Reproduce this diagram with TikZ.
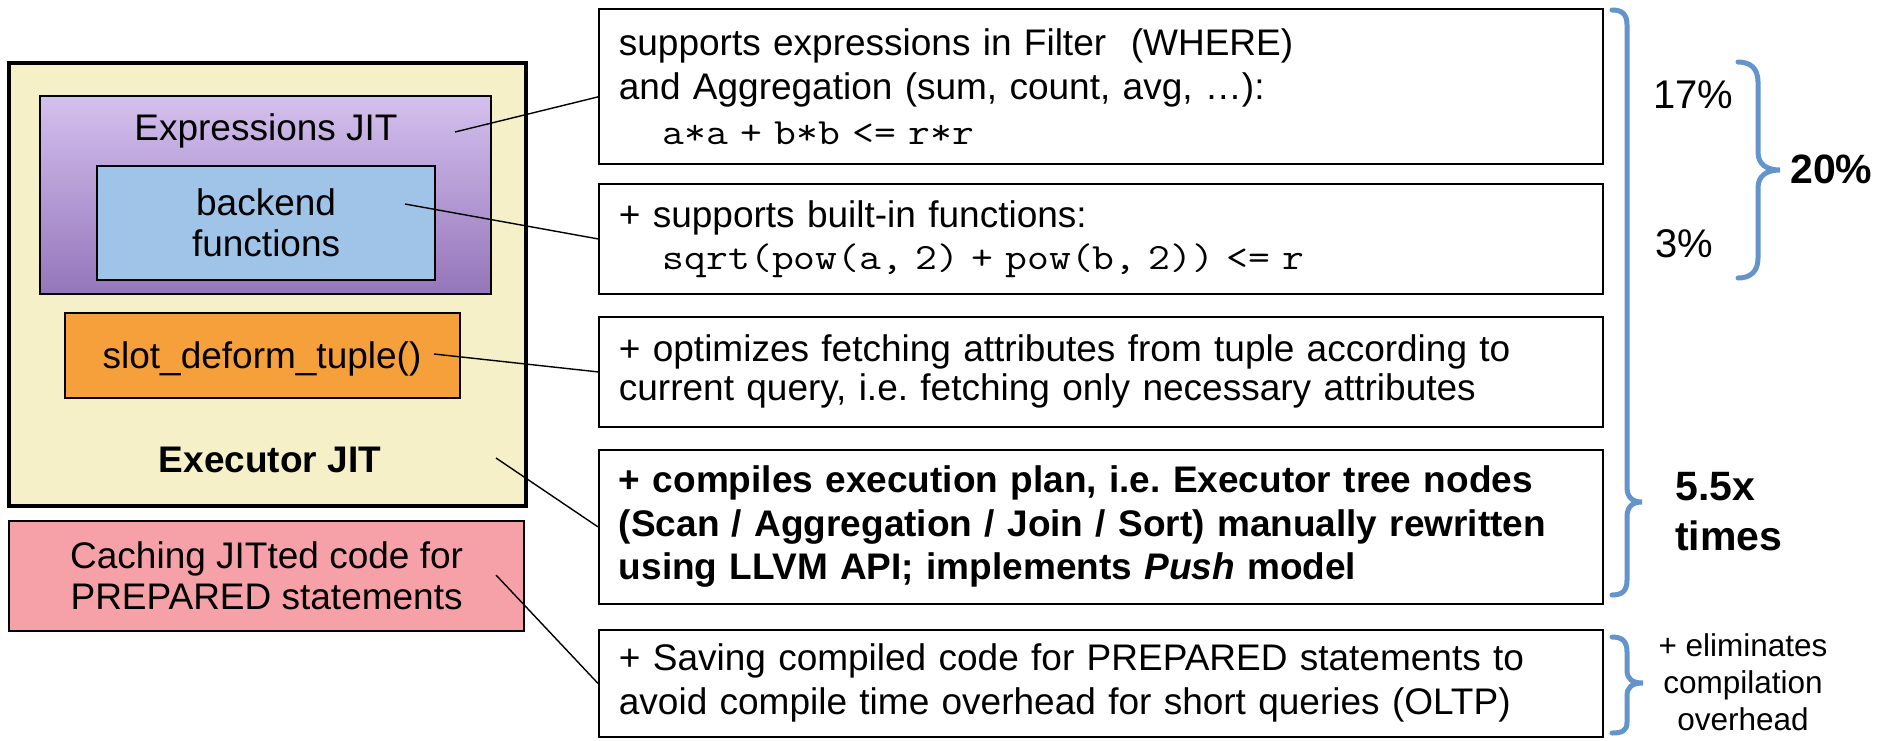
\documentclass[tikz,border=0pt]{standalone}
\usepackage{fontspec}
\setmainfont{Liberation Sans}
\newfontfamily\codefont{Latin Modern Mono}[FakeStretch=1.146]
\usetikzlibrary{calc}

\definecolor{execfill}{RGB}{245,240,200}
\definecolor{exprtop}{RGB}{212,192,238}
\definecolor{exprbot}{RGB}{148,118,186}
\definecolor{backfill}{RGB}{160,196,232}
\definecolor{slotfill}{RGB}{245,160,58}
\definecolor{cachefill}{RGB}{246,160,168}
\definecolor{braceblue}{RGB}{99,148,204}

\newcommand{\fsz}[2]{\fontsize{#1pt}{#2pt}\selectfont}
\frenchspacing

\begin{document}
\begin{tikzpicture}[x=1pt,y=-1pt,
  box/.style={draw=black, line width=2.2pt, rectangle, inner sep=0pt, anchor=north west},
  note/.style={draw=black, line width=1.8pt, rectangle, anchor=north west,
    minimum width=1004pt, text width=964pt, inner xsep=20pt, inner ysep=0pt,
    align=left},
  link/.style={line width=1.4pt, draw=black},
  curly/.style={draw=braceblue, line width=5pt, line cap=round},
  lbl/.style={anchor=base west, inner sep=0pt},
]
\useasboundingbox (0,0) rectangle (1878,740);

% ---- left: JIT components ----
\node[box, line width=4pt, fill=execfill, minimum width=517pt, minimum height=443pt] (exec) at (7,61) {};
\node[box, top color=exprtop, bottom color=exprbot, minimum width=451pt, minimum height=198pt] (expr) at (39,95) {};
\node[anchor=base, inner sep=0pt, font=\fsz{37}{44}] (exprtxt) at (266,140) {Expressions JIT};
\node[box, fill=backfill, minimum width=338pt, minimum height=114pt, align=center, font=\fsz{37}{41}] (back) at (96,165) {backend\\functions};
\node[box, fill=slotfill, minimum width=395pt, minimum height=85pt] (slot) at (64,312) {};
\node[anchor=base, inner sep=0pt, font=\fsz{37}{44}] (slottxt) at (262,368) {slot\_deform\_tuple()};
\node[anchor=base, inner sep=0pt, font=\bfseries\fsz{37}{44}] (exectxt) at (270,472) {Executor JIT};
\node[box, fill=cachefill, minimum width=515pt, minimum height=110pt, align=center, font=\fsz{37}{41}] (cache) at (8,520) {Caching JITted code for\\PREPARED statements};

% ---- right: feature descriptions ----
\node[note, minimum height=155pt, font=\fsz{37}{44.5}] (n1) at (598,8)
  {supports expressions in Filter\ \ (WHERE)\\and Aggregation (sum, count, avg, …):\\{\codefont\hspace*{44pt}a*a + b*b <= r*r}};
\node[note, minimum height=110pt, font=\fsz{37}{42}] (n2) at (598,183)
  {+ supports built-in functions:\\{\codefont\hspace*{44pt}sqrt(pow(a, 2) + pow(b, 2)) <= r}};
\node[note, minimum height=110pt, font=\fsz{37}{39}] (n3) at (598,316)
  {+ optimizes fetching attributes from tuple according to\\current query, i.e. fetching only necessary attributes};
\node[note, minimum height=154pt, font=\bfseries\fsz{37}{43.5}] (n4) at (598,449)
  {+ compiles execution plan, i.e. Executor tree nodes\\(Scan / Aggregation / Join / Sort) manually rewritten\\using LLVM API; implements \textit{Push} model};
\node[note, minimum height=107pt, font=\fsz{37}{44}] (n5) at (598,629)
  {+ Saving compiled code for PREPARED statements to\\avoid compile time overhead for short queries (OLTP)};

% ---- connectors ----
\coordinate (e1) at (455,132);
\coordinate (e2) at (405,204);
\coordinate (e3) at (434,354);
\coordinate (e4) at (496,458);
\coordinate (e5) at (496,575);
\draw[link] (e1) -- ([yshift=-10.5pt]n1.west);
\draw[link] (e2) -- (n2.west);
\draw[link] (e3) -- (n3.west);
\draw[link] (e4) -- (n4.west);
\draw[link] (e5) -- (n5.west);

% ---- braces ----
\draw[curly] (1612,10) .. controls (1622,10) and (1627,14) .. (1627,25)
  -- (1627,487) .. controls (1627,497) and (1632,502) .. (1642,502)
  .. controls (1632,502) and (1627,507) .. (1627,517)
  -- (1627,580) .. controls (1627,591) and (1622,595) .. (1612,595);
\draw[curly] (1738,62) .. controls (1750,62) and (1758,68) .. (1758,82)
  -- (1758,152) .. controls (1758,164) and (1766,170) .. (1780,170)
  .. controls (1766,170) and (1758,176) .. (1758,188)
  -- (1758,258) .. controls (1758,272) and (1750,278) .. (1738,278);
\draw[curly] (1612,637) .. controls (1622,637) and (1627,641) .. (1627,652)
  -- (1627,670) .. controls (1627,679) and (1632,683) .. (1643,683)
  .. controls (1632,683) and (1627,687) .. (1627,696)
  -- (1627,722) .. controls (1627,731) and (1622,733) .. (1612,733);

% ---- figures ----
\node[lbl, font=\fsz{40}{46}] (p17) at (1653,108) {17\%};
\node[lbl, font=\fsz{40}{46}] (p3) at (1655,257) {3\%};
\node[lbl, font=\bfseries\fsz{41}{48}] (p20) at (1790,183) {20\%};
\node[lbl, font=\bfseries\fsz{41}{50}] (spd) at (1675,500) {5.5x};
\node[lbl, font=\bfseries\fsz{41}{50}] (spdb) at (1675,550) {times};
\node[inner sep=0pt, align=center, font=\fsz{31.5}{37}] (elim) at (1743,682) {+ eliminates\\compilation\\overhead};
\end{tikzpicture}
\end{document}
